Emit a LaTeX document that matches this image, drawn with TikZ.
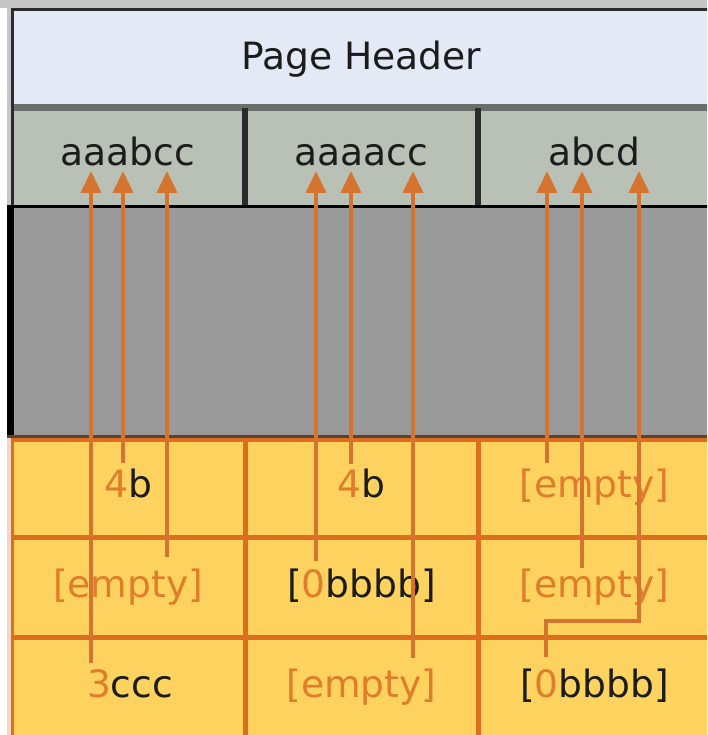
\documentclass[tikz,border=0pt]{standalone}
\usepackage{fontspec}
\setmainfont{DejaVu Sans}
\usetikzlibrary{arrows.meta}

\definecolor{hdrfill}{HTML}{E3EAF5}
\definecolor{hdrline}{HTML}{6B6F6B}
\definecolor{strfill}{HTML}{B9C0B5}
\definecolor{divider}{HTML}{2B2B2B}
\definecolor{midgray}{HTML}{9A9A9A}
\definecolor{cellfill}{HTML}{FDD25F}
\definecolor{gridorange}{HTML}{DC6E1E}
\definecolor{arroworange}{HTML}{D4742F}
\definecolor{lbltext}{HTML}{E07D2A}
\definecolor{ink}{HTML}{1C1C1C}
\definecolor{edgegray}{HTML}{C6C6C6}
\definecolor{edgepeach}{HTML}{F3D6C5}
\definecolor{seambrown}{HTML}{5C4030}

\begin{document}
\begin{tikzpicture}[x=1pt,y=-1pt,
  lbl/.style={font=\fontsize{37.6pt}{44pt}\selectfont, text=ink, inner sep=0pt, anchor=base},
  soft/.style={text=lbltext},
  gridline/.style={draw=gridorange, line width=5pt},
  sepline/.style={draw=divider, line width=6pt},
  ptr/.style={draw=arroworange, line width=4pt, line join=miter,
              -{Triangle[width=20pt,length=22pt]}},
]
\clip (0,0) rectangle (707,735);

% outer strips
\fill[white] (0,0) rectangle (707,735);
\fill[edgegray] (0,0) rectangle (707,8);
\fill[edgegray] (7,0) rectangle (11,435);
\fill[edgepeach] (7,438) rectangle (11,735);

% page header
\fill[hdrfill] (11,11) rectangle (720,104);
\fill[divider] (11,8) rectangle (720,11);
\fill[hdrline] (11,104) rectangle (720,111);

% string row
\fill[strfill] (14,111) rectangle (720,205);
\fill[divider] (11,8) rectangle (14,205);
\draw[sepline] (245,108) -- (245,205);
\draw[sepline] (478,108) -- (478,205);
\fill[black] (7,205) rectangle (720,208);

% free space
\fill[midgray] (14,208) rectangle (720,435);
\fill[black] (7,205) rectangle (14,435);
\fill[seambrown] (7,435) rectangle (720,438);

% slot grid
\fill[cellfill] (11,438) rectangle (720,740);
\fill[gridorange] (11,438) rectangle (720,442);
\fill[gridorange] (11,438) rectangle (14,740);
\draw[gridline] (11,537) -- (720,537);
\draw[gridline] (11,637) -- (720,637);
\draw[gridline] (245,438) -- (245,740);
\draw[gridline] (478,438) -- (478,740);

% texts
\node[lbl] (hdr) at (361,70) {Page Header};
\node[lbl] (s1) at (128,166) {aaabcc};
\node[lbl] (s2) at (361.5,166) {aaaacc};
\node[lbl] (s3) at (594.5,166) {abcd};

\node[lbl] (c11) at (128,497) {{\color{lbltext}4}b};
\node[lbl] (c12) at (361.5,497) {{\color{lbltext}4}b};
\node[lbl,soft] (c13) at (594.5,497) {[empty]};
\node[lbl,soft] (c21) at (128,597) {[empty]};
\node[lbl] (c22) at (361.5,597) {[{\color{lbltext}0}bbbb]};
\node[lbl,soft] (c23) at (594.5,597) {[empty]};
\node[lbl] (c31) at (130,697) {{\color{lbltext}3}ccc};
\node[lbl,soft] (c32) at (361.5,697) {[empty]};
\node[lbl] (c33) at (594.5,697) {[{\color{lbltext}0}bbbb]};

% pointer tips under the strings
\coordinate (t1a) at (91,171);
\coordinate (t1b) at (123,171);
\coordinate (t1c) at (167,171);
\coordinate (t2a) at (316,171);
\coordinate (t2b) at (351,171);
\coordinate (t2c) at (413,171);
\coordinate (t3a) at (547,171);
\coordinate (t3b) at (582,171);
\coordinate (t3c) at (639,171);

% pointer tails above the slot entries
\coordinate (f1a) at (91,663);
\coordinate (f1b) at (123,463);
\coordinate (f1c) at (167,557);
\coordinate (f2a) at (316,561);
\coordinate (f2b) at (351,464);
\coordinate (f2c) at (413,658);
\coordinate (f3a) at (547,463);
\coordinate (f3b) at (582,568);
\coordinate (f3c) at (546,657);
\coordinate (k3c) at (639,621);

% pointers
\draw[ptr] (f1a) -- (t1a);
\draw[ptr] (f1b) -- (t1b);
\draw[ptr] (f1c) -- (t1c);
\draw[ptr] (f2a) -- (t2a);
\draw[ptr] (f2b) -- (t2b);
\draw[ptr] (f2c) -- (t2c);
\draw[ptr] (f3a) -- (t3a);
\draw[ptr] (f3b) -- (t3b);
\draw[ptr] (f3c) |- (k3c) -- (t3c);
\end{tikzpicture}
\end{document}
